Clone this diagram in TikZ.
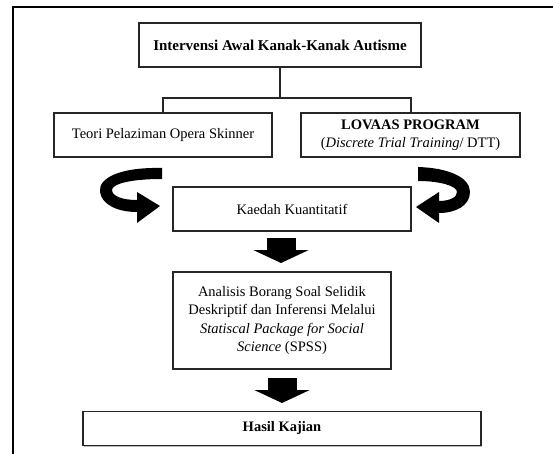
\documentclass[tikz,border=0pt]{standalone}
\usepackage{fontspec}
\setmainfont{Liberation Serif}
\usetikzlibrary{arrows.meta,shadows}
\begin{document}
\begin{tikzpicture}[x=1pt,y=-1pt,
  box/.style={draw=black!85,line width=1.1pt,align=center,inner sep=2pt,fill=white,
    drop shadow={shadow xshift=1.2pt,shadow yshift=-1.2pt,fill=black!45,opacity=0.6},
    font=\fontsize{14.5}{18.5}\selectfont},
  link/.style={draw=black!85,line width=2pt},
  blockarrow/.style={line width=29pt,-{Triangle[length=13pt,width=55pt]}},
  frameline/.style={line width=2pt}]
\useasboundingbox (0,0) rectangle (553,454);
\draw[frameline] (13,454) -- (13,7) -- (553,7);

\node[box,minimum width=282pt,minimum height=44pt,font=\fontsize{15}{18.5}\selectfont] (top) at (280,45)
  {\textbf{Intervensi Awal Kanak-Kanak Autisme}};
\node[box,minimum width=218pt,minimum height=44pt] (left) at (163,135)
  {Teori Pelaziman Opera Skinner};
\node[box,minimum width=219pt,minimum height=44pt] (right) at (410.5,135)
  {\textbf{LOVAAS PROGRAM}\\(\textit{Discrete Trial Training}/ DTT)};
\node[box,minimum width=238pt,minimum height=44pt] (kaedah) at (292,209)
  {Kaedah Kuantitatif};
\node[box,minimum width=218pt,minimum height=97pt] (spss) at (282,320.5)
  {Analisis Borang Soal Selidik\\Deskriptif dan Inferensi Melalui\\
   \textit{Statiscal Package for Social}\\\textit{Science} (SPSS)};
\node[box,minimum width=398pt,minimum height=34pt] (hasil) at (282,428.5)
  {\textbf{Hasil Kajian}};

\coordinate (jl) at (163,98);
\coordinate (jr) at (410.5,98);
\draw[link] (top.south) -- (top.south |- jl);
\draw[link] (left.north) -- (jl) -- (jr) -- (right.north);

\draw[blockarrow] (281,238) -- (281,263);
\draw[blockarrow] (282,378) -- (282,403);

% curved arrows
\fill[black] (162,168) .. controls (120,167) and (98,178) .. (100,192)
  .. controls (102,205) and (118,212) .. (137,212) -- (137,223) -- (160,206)
  -- (137,192) -- (137,200) .. controls (122,200) and (112,196) .. (112,190)
  .. controls (112,184) and (130,179) .. (162,179) -- cycle;
\fill[black] (418,167) .. controls (450,168) and (470,178) .. (470,192)
  .. controls (470,206) and (455,213) .. (439,213) -- (439,223) -- (416,207)
  -- (439,192) -- (439,201) .. controls (450,201) and (457,197) .. (457,192)
  .. controls (457,186) and (440,181) .. (418,181) -- cycle;
\end{tikzpicture}
\end{document}
